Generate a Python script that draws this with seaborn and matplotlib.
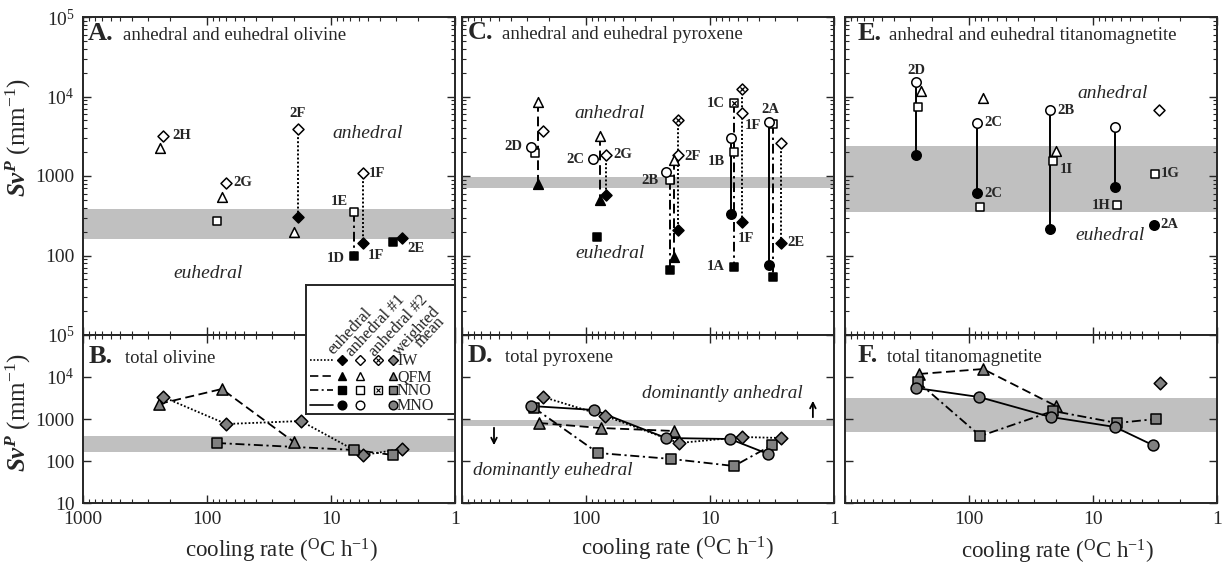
import matplotlib
matplotlib.use("Agg")
import matplotlib.pyplot as plt
import seaborn as sns

# ---------------- data ----------------
# Panel A - anhedral and euhedral olivine (cooling rate degC/h, SvP mm^-1)
olv_x = [226, 239, 70, 76, 83, 18.5, 18.5, 19.9, 6.5, 6.5, 5.5, 5.5, 3.16, 2.67]
olv_y = [3190, 2250, 817, 545, 272, 3900, 305, 198, 352, 99, 1090, 144, 148, 166]
olv_buf = ["IW", "QFM", "IW", "QFM", "NNO", "IW", "IW", "QFM", "NNO", "NNO", "IW", "IW", "NNO", "IW"]
olv_kind = ["anh1", "anh1", "anh1", "anh1", "anh1", "anh1", "euh", "anh1", "anh1", "euh", "anh1", "euh", "euh", "euh"]
olv_ties = [(5, 6), (8, 9), (10, 11)]
olv_lab = {0: "2H", 2: "2G", 5: "2F", 8: "1E", 9: "1D", 10: "1F", 11: "1F", 13: "2E"}

# Panel C - anhedral and euhedral pyroxene
pyx_x = [244, 222, 278, 258, 244, 81, 88, 77, 69, 77, 69, 22.6, 21, 21, 19.5, 19.5, 18.1, 18.1, 18.1,
         6.8, 6.4, 6.8, 6.4, 6.4, 5.5, 5.5, 5.5, 3.34, 3.1, 3.34, 3.1, 2.67, 2.67]
pyx_y = [8530, 3680, 2320, 1950, 793, 171, 1640, 3180, 1840, 499, 577, 1120, 890, 66, 1590, 96, 1840, 5060, 210,
         3000, 2000, 333, 8280, 72, 6200, 12400, 264, 4770, 4510, 76, 54, 2600, 144]
pyx_buf = ["QFM", "IW", "MNO", "NNO", "QFM", "NNO", "MNO", "QFM", "IW", "QFM", "IW", "MNO", "NNO", "NNO",
           "QFM", "QFM", "IW", "IW", "IW", "MNO", "NNO", "MNO", "NNO", "NNO", "IW", "IW", "IW",
           "MNO", "NNO", "MNO", "NNO", "IW", "IW"]
pyx_kind = ["anh1", "anh1", "anh1", "anh1", "euh", "euh", "anh1", "anh1", "anh1", "euh", "euh", "anh1", "anh1",
            "euh", "anh1", "euh", "anh1", "anh2", "euh", "anh1", "anh1", "euh", "anh2", "euh", "anh1", "anh2",
            "euh", "anh1", "anh1", "euh", "euh", "anh1", "euh"]
pyx_ties = [(0, 4), (7, 9), (8, 10), (12, 13), (14, 15), (17, 18), (19, 21), (22, 23), (25, 26),
            (27, 29), (28, 30), (31, 32)]
pyx_lab = {2: "2D", 6: "2C", 8: "2G", 12: "2B", 16: "2F", 20: "1B", 22: "1C", 24: "1F", 26: "1F",
           23: "1A", 27: "2A", 32: "2E"}

# Panel E - anhedral and euhedral titanomagnetite
tim_x = [267, 244, 258, 267, 77, 86, 86, 81, 22.2, 22.2, 19.9, 21, 6.65, 6.65, 6.4, 2.94, 3.16, 3.22]
tim_y = [15200, 11700, 7380, 1840, 9580, 4650, 611, 408, 6760, 215, 2060, 1550, 4130, 728, 431, 6760, 1060, 242]
tim_buf = ["MNO", "QFM", "NNO", "MNO", "QFM", "MNO", "MNO", "NNO", "MNO", "MNO", "QFM", "NNO", "MNO",
           "MNO", "NNO", "IW", "NNO", "MNO"]
tim_kind = ["anh1", "anh1", "anh1", "euh", "anh1", "anh1", "euh", "anh1", "anh1", "euh", "anh1", "anh1",
            "anh1", "euh", "anh1", "anh1", "anh1", "euh"]
tim_ties = [(0, 3), (5, 6), (8, 9), (12, 13)]
tim_lab = {0: "2D", 5: "2C", 6: "2C", 8: "2B", 11: "1I", 14: "1H", 16: "1G", 17: "2A"}

# Panel B - total olivine (weighted means)
olvB_iw_x = [226, 70, 17.5, 5.5, 2.67]
olvB_iw_y = [3340, 760, 895, 139, 193]
olvB_qfm_x = [244, 76, 19.9]
olvB_qfm_y = [2280, 5180, 283]
olvB_nno_x = [83, 6.5, 3.16]
olvB_nno_y = [268, 183, 139]

# Panel D - total pyroxene
pyxD_iw_x = [222, 70, 17.8, 5.5, 2.67]
pyxD_iw_y = [3340, 1180, 268, 373, 353]
pyxD_qfm_x = [239, 76, 19.5]
pyxD_qfm_y = [803, 611, 518]
pyxD_nno_x = [262, 80, 20.6, 6.4, 3.16]
pyxD_nno_y = [1830, 155, 112, 76, 240]
pyxD_mno_x = [278, 86, 22.6, 6.9, 3.4]
pyxD_mno_y = [2040, 1640, 353, 334, 147]

# Panel F - total titanomagnetite
timF_iw_x = [2.9]
timF_iw_y = [7200]
timF_qfm_x = [253, 77, 19.9]
timF_qfm_y = [11800, 15500, 2040]
timF_nno_x = [258, 81, 21, 6.4, 3.1]
timF_nno_y = [7600, 393, 1550, 803, 1000]
timF_mno_x = [267, 83, 22, 6.65, 3.3]
timF_mno_y = [5470, 3340, 1120, 646, 240]

# grey reference bands (SvP range)
band_A = (160, 385)
band_C = (700, 970)
band_E = (350, 2400)
band_B = (160, 385)
band_D = (680, 930)
band_F = (500, 3100)

# ---------------- style ----------------
sns.set_style("ticks")
plt.rcParams["font.family"] = ["Liberation Serif", "DejaVu Serif"]
plt.rcParams["mathtext.fontset"] = "custom"
plt.rcParams["mathtext.rm"] = "Liberation Serif"
plt.rcParams["mathtext.it"] = "Liberation Serif:italic"
plt.rcParams["mathtext.bf"] = "Liberation Serif:bold"
plt.rcParams["mathtext.bfit"] = "Liberation Serif:italic:bold"

FACE = {"euh": "black", "anh1": "white", "anh2": "white", "mean": "#808080"}
MARK = {"IW": "D", "QFM": "^", "NNO": "s", "MNO": "o"}
MSIZE = {"IW": 5.6, "QFM": 7.0, "NNO": 5.8, "MNO": 6.8}
LS = {"IW": (0, (1, 1.1)), "QFM": (0, (5, 2.5)), "NNO": (0, (5, 2, 1.2, 2)), "MNO": "-"}
BAND = "#c0c0c0"

W, H = 1228, 565
fig = plt.figure(figsize=(W / 100, H / 100), dpi=100)


def make_ax(left_px, top_px, bottom_px):
    ax = fig.add_axes([left_px / W, 1 - bottom_px / H, 372 / W, (bottom_px - top_px) / H])
    ax.set_xscale("log")
    ax.set_yscale("log")
    ax.set_xlim(1000, 1)
    ax.set_ylim(10, 1e5)
    ax.tick_params(which="both", direction="in", top=True, right=True)
    ax.tick_params(which="major", length=6, width=1.0, labelsize=14, pad=6)
    ax.tick_params(which="minor", length=3, width=0.8)
    for s in ax.spines.values():
        s.set_linewidth(1.4)
    ax.set_xticks([1000, 100, 10, 1])
    ax.set_yticks([10, 100, 1000, 1e4, 1e5])
    return ax


def draw_points(ax, xs, ys, bufs, kinds, scale=1.0):
    for buf in MARK:
        for kind in FACE:
            sel = [i for i in range(len(xs)) if bufs[i] == buf and kinds[i] == kind]
            if not sel:
                continue
            px = [xs[i] for i in sel]
            py = [ys[i] for i in sel]
            ms = MSIZE[buf] * scale
            sns.scatterplot(x=px, y=py, ax=ax, marker=MARK[buf], s=ms ** 2, color=FACE[kind],
                            edgecolor="black", linewidth=1.1, zorder=4, legend=False)
            if kind == "anh2":
                sns.scatterplot(x=px, y=py, ax=ax, marker="x", s=(ms * 0.55) ** 2, color="black",
                                linewidth=0.9, zorder=5, legend=False)


def draw_ties(ax, xs, ys, bufs, ties):
    for i, j in ties:
        sns.lineplot(x=[xs[i], xs[j]], y=[ys[i], ys[j]], ax=ax, color="black", lw=1.4,
                     linestyle=LS[bufs[i]], sort=False, estimator=None, zorder=2)


def draw_series(ax, xs, ys, buf):
    if len(xs) > 1:
        sns.lineplot(x=xs, y=ys, ax=ax, color="black", lw=1.3, linestyle=LS[buf],
                     sort=False, estimator=None, zorder=2)
    draw_points(ax, xs, ys, [buf] * len(xs), ["mean"] * len(xs), scale=1.15)


def label_points(ax, xs, ys, labs, offs):
    for i, t in labs.items():
        dx, dy, ha = offs[i]
        ax.annotate(t, (xs[i], ys[i]), xytext=(dx, -dy), textcoords="offset pixels",
                    ha=ha, va="center", fontsize=10.5, fontweight="bold", zorder=6)


def title(ax, letter, text, xl, xt, yb):
    ax.text(xl, yb, letter, transform=ax.transAxes, fontsize=19, fontweight="bold", va="baseline")
    ax.text(xt, yb, text, transform=ax.transAxes, fontsize=13.5, va="baseline")


YLAB = r"$\mathbfit{Sv}^{\mathbfit{P}}$ (mm$^{\mathrm{-1}}$)"
XLAB = r"cooling rate ($^{\mathrm{O}}$C h$^{\mathrm{-1}}$)"
ytl_full = ["10", "100", "1000", r"$\mathregular{10^4}$", r"$\mathregular{10^5}$"]
ITAL = 14

# ---------------- axes ----------------
axA = make_ax(83, 17, 335)
axC = make_ax(462, 17, 335)
axE = make_ax(845, 17, 335)
axB = make_ax(83, 335, 503)
axD = make_ax(462, 335, 503)
axF = make_ax(845, 335, 503)

for ax, band in [(axA, band_A), (axC, band_C), (axE, band_E), (axB, band_B), (axD, band_D), (axF, band_F)]:
    ax.axhspan(band[0], band[1], color=BAND, lw=0, zorder=0)

for ax in (axA, axC, axE):
    ax.set_xticklabels([])
for ax in (axC, axE, axD, axF):
    ax.set_yticklabels([])
axA.set_yticklabels([""] + ytl_full[1:])
axB.set_yticklabels(ytl_full)
axB.set_xticklabels(["1000", "100", "10", "1"])
axD.set_xticklabels(["", "100", "10", "1"])
axF.set_xticklabels(["", "100", "10", "1"])

# panel A
draw_ties(axA, olv_x, olv_y, olv_buf, olv_ties)
draw_points(axA, olv_x, olv_y, olv_buf, olv_kind)
label_points(axA, olv_x, olv_y, olv_lab,
             {0: (9, 0, "left"), 2: (7, 0, "left"), 5: (0, -16, "center"), 8: (-15, -11, "center"),
              9: (-9, 3, "right"), 10: (6, 0, "left"), 11: (5, 13, "left"), 13: (5, 10, "left")})
title(axA, "A.", "anhedral and euhedral olivine", 0.013, 0.108, 0.928)
axA.text(5.1, 3470, "anhedral", fontsize=ITAL, style="italic", ha="center", va="center")
axA.text(98, 60, "euhedral", fontsize=ITAL, style="italic", ha="center", va="center")

# panel C
draw_ties(axC, pyx_x, pyx_y, pyx_buf, pyx_ties)
draw_points(axC, pyx_x, pyx_y, pyx_buf, pyx_kind)
label_points(axC, pyx_x, pyx_y, pyx_lab,
             {2: (-9, 0, "right"), 6: (-9, 1, "right"), 8: (7, 0, "left"), 12: (-12, 0, "right"),
              16: (6, 2, "left"), 20: (-9, 9, "right"), 22: (-9, 0, "right"), 24: (3, 12, "left"),
              26: (-4, 17, "left"), 23: (-9, 0, "right"), 27: (1, -13, "center"), 32: (6, 0, "left")})
title(axC, "C.", "anhedral and euhedral pyroxene", 0.016, 0.108, 0.93)
axC.text(64, 6170, "anhedral", fontsize=ITAL, style="italic", ha="center", va="center")
axC.text(64, 107, "euhedral", fontsize=ITAL, style="italic", ha="center", va="center")

# panel E
draw_ties(axE, tim_x, tim_y, tim_buf, tim_ties)
draw_points(axE, tim_x, tim_y, tim_buf, tim_kind)
label_points(axE, tim_x, tim_y, tim_lab,
             {0: (0, -12, "center"), 5: (7, 0, "left"), 6: (7, 0, "left"), 8: (7, 0, "left"),
              11: (7, 9, "left"), 14: (-7, 0, "right"), 16: (6, 0, "left"), 17: (6, 0, "left")})
title(axE, "E.", "anhedral and euhedral titanomagnetite", 0.035, 0.118, 0.927)
axE.text(7.0, 10800, "anhedral", fontsize=ITAL, style="italic", ha="center", va="center")
axE.text(7.3, 181, "euhedral", fontsize=ITAL, style="italic", ha="center", va="center")

# panel B
draw_series(axB, olvB_qfm_x, olvB_qfm_y, "QFM")
draw_series(axB, olvB_iw_x, olvB_iw_y, "IW")
draw_series(axB, olvB_nno_x, olvB_nno_y, "NNO")
title(axB, "B.", "total olivine", 0.014, 0.113, 0.833)

# panel D
draw_series(axD, pyxD_nno_x, pyxD_nno_y, "NNO")
draw_series(axD, pyxD_qfm_x, pyxD_qfm_y, "QFM")
draw_series(axD, pyxD_iw_x, pyxD_iw_y, "IW")
draw_series(axD, pyxD_mno_x, pyxD_mno_y, "MNO")
title(axD, "D.", "total pyroxene", 0.016, 0.116, 0.84)
axD.text(8.0, 3940, "dominantly anhedral", fontsize=13.8, style="italic", ha="center", va="center")
axD.text(185, 58, "dominantly euhedral", fontsize=13.8, style="italic", ha="center", va="center")
axD.annotate("", xy=(1.48, 3160), xytext=(1.48, 946),
             arrowprops=dict(arrowstyle="->", lw=1.3, color="black"))
axD.annotate("", xy=(552, 204), xytext=(552, 720),
             arrowprops=dict(arrowstyle="->", lw=1.3, color="black"))

# panel F
draw_series(axF, timF_qfm_x, timF_qfm_y, "QFM")
draw_series(axF, timF_nno_x, timF_nno_y, "NNO")
draw_series(axF, timF_mno_x, timF_mno_y, "MNO")
draw_series(axF, timF_iw_x, timF_iw_y, "IW")
title(axF, "F.", "total titanomagnetite", 0.035, 0.113, 0.84)

# axis labels
for ax, yc in [(axA, 0.62), (axB, 0.54)]:
    ax.set_ylabel(YLAB, fontsize=18)
    ax.yaxis.set_label_coords(-0.134, yc)
for ax, xc, yc in [(axB, 0.535, -0.2), (axD, 0.58, -0.19), (axF, 0.57, -0.205)]:
    ax.set_xlabel(XLAB, fontsize=16.5)
    ax.xaxis.set_label_coords(xc, yc)
for ax in (axA, axC, axE):
    ax.set_xlabel("")
for ax in (axC, axE, axD, axF):
    ax.set_ylabel("")

# ---------------- legend box ----------------
lg = fig.add_axes([306 / W, 1 - 414 / H, 149 / W, 129 / H], zorder=20)
lg.set_xlim(0, 149)
lg.set_ylim(129, 0)
lg.set_xticks([])
lg.set_yticks([])
lg.set_facecolor("white")
for s in lg.spines.values():
    s.set_linewidth(1.4)
rows = {"IW": 75, "QFM": 91, "NNO": 105, "MNO": 120}
cols = {"euh": 36, "anh1": 54, "anh2": 72, "mean": 87}
avail = {"IW": ["euh", "anh1", "anh2", "mean"], "QFM": ["euh", "anh1", "mean"],
         "NNO": ["euh", "anh1", "anh2", "mean"], "MNO": ["euh", "anh1", "mean"]}
for buf, ry in rows.items():
    lg.plot([4, 27], [ry, ry], color="black", lw=1.2, linestyle=LS[buf])
    for kind in avail[buf]:
        ms = MSIZE[buf] * 0.92
        lg.plot([cols[kind]], [ry], marker=MARK[buf], ms=ms, mfc=FACE[kind], mec="black", mew=1.0)
        if kind == "anh2":
            lg.plot([cols[kind]], [ry], marker="x", ms=ms * 0.55, color="black", mew=0.8)
    lg.text(91, ry + 1, buf, fontsize=11.5, ha="left", va="center")
heads = [("euhedral", 27, 70), ("anhedral #1", 46, 72), ("anhedral #2", 69, 72),
         ("weighted", 93, 71), ("mean", 115, 63)]
for txt, hx, hy in heads:
    lg.text(hx, hy, txt, fontsize=12, rotation=47, rotation_mode="anchor",
            ha="left", va="baseline")

fig.savefig("out.png", dpi=100)
